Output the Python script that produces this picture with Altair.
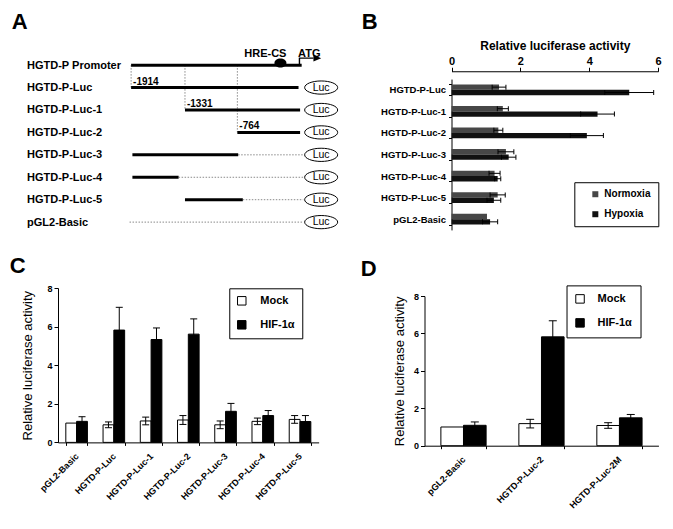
import altair as alt
import pandas as pd

# ---------------- canvas mapping (reference pixels -> chart pixels) ----------------
W, H = 656, 510
RX0, RX1 = 2.0, 675.0
RY0, RY1 = 4.0, 528.0
FONT = "Liberation Sans"


def X(rx):
    return round((rx - RX0) * W / (RX1 - RX0), 2)


def Y(ry):
    return round((ry - RY0) * H / (RY1 - RY0), 2)


# ---------------- data ----------------
# Panel A: construct map (positions in bp relative to ATG)
rows_A = ["HGTD-P Promoter", "HGTD-P-Luc", "HGTD-P-Luc-1", "HGTD-P-Luc-2",
          "HGTD-P-Luc-3", "HGTD-P-Luc-4", "HGTD-P-Luc-5", "pGL2-Basic"]
solid_rows = ["HGTD-P Promoter", "HGTD-P-Luc", "HGTD-P-Luc-1", "HGTD-P-Luc-2",
              "HGTD-P-Luc-3", "HGTD-P-Luc-4", "HGTD-P-Luc-5"]
solid_start = [-1914, -1914, -1331, -764, -1900, -1900, -1331]
solid_end = [-68, -102, -85, -85, -755, -1400, -705]
dotted_rows = ["HGTD-P-Luc-3", "HGTD-P-Luc-4", "HGTD-P-Luc-5", "pGL2-Basic"]
dotted_start = [-755, -1400, -705, -1931]
dotted_end = [-50, -50, -50, -50]
cut_rows = ["HGTD-P-Luc", "HGTD-P-Luc-1", "HGTD-P-Luc-2"]
cut_pos = [-1914, -1331, -764]
cut_labels = ["-1914", "-1331", "-764"]
luc_rows = rows_A[1:]
luc_pos = [143] * 7
hre_pos = [-298]
feature_labels = ["HRE-CS", "ATG"]
feature_label_pos = [-461, 14]
tss_pos = [-92]

# Panel B: normoxia / hypoxia
cats_B = ["HGTD-P-Luc", "HGTD-P-Luc-1", "HGTD-P-Luc-2", "HGTD-P-Luc-3",
          "HGTD-P-Luc-4", "HGTD-P-Luc-5", "pGL2-Basic"]
series_B = ["Normoxia", "Hypoxia"]
normoxia_B = [1.38, 1.49, 1.36, 1.58, 1.25, 1.34, 1.03]
normoxia_err_B = [0.20, 0.16, 0.13, 0.23, 0.16, 0.22, 0.0]
hypoxia_B = [5.16, 4.24, 3.93, 1.66, 1.34, 1.23, 1.12]
hypoxia_err_B = [0.71, 0.49, 0.48, 0.21, 0.09, 0.20, 0.22]

# Panel C: mock / HIF-1a
cats_C = ["pGL2-Basic", "HGTD-P-Luc", "HGTD-P-Luc-1", "HGTD-P-Luc-2",
          "HGTD-P-Luc-3", "HGTD-P-Luc-4", "HGTD-P-Luc-5"]
series_CD = ["Mock", "HIF-1\u03b1"]
mock_C = [1.0, 0.91, 1.11, 1.16, 0.91, 1.09, 1.19]
mock_err_C = [0.0, 0.15, 0.20, 0.23, 0.20, 0.17, 0.20]
hif_C = [1.09, 5.82, 5.33, 5.61, 1.61, 1.39, 1.08]
hif_err_C = [0.24, 1.18, 0.60, 0.79, 0.41, 0.26, 0.31]

# Panel D
cats_D = ["pGL2-Basic", "HGTD-P-Luc-2", "HGTD-P-Luc-2M"]
mock_D = [1.0, 1.18, 1.08]
mock_err_D = [0.0, 0.23, 0.15]
hif_D = [1.09, 5.82, 1.49]
hif_err_D = [0.18, 0.86, 0.18]

# Panel letters (reference pixel positions of their top-centre)
letters = ["A", "B", "C", "D"]
letter_x = [14, 373, 12, 372]
letter_y = [8, 8, 259, 262]

ELLIPSE = "M-1,0A1,0.4,0,1,1,1,0A1,0.4,0,1,1,-1,0Z"
BUMP = "M-1,-0.37A1,0.75,0,1,1,1,-0.37A1,0.75,0,1,1,-1,-0.37Z"
STEM = "M0,0L0,-0.4375L0.875,-0.4375"
HEAD = "M0.875,-0.65L1.36,-0.4375L0.875,-0.225Z"

# ---------------- Panel A ----------------
xA_scale = alt.Scale(domain=[-1914, -764], range=[X(128.3), X(237.3)], zero=False, nice=False)
yA_scale = alt.Scale(type="point", domain=rows_A, range=[Y(62.7), Y(224)], padding=0)
yA_axis = alt.Axis(orient="left", offset=-X(21), domain=False, ticks=False, tickSize=0, grid=False,
                   labelAlign="left", labelPadding=0, labelFont=FONT, labelFontSize=11,
                   labelFontWeight="bold", labelColor="black", title=None, labelLimit=300)


def xa(field):
    return alt.X(f"{field}:Q", scale=xA_scale, axis=None)


ya = alt.Y("row:N", scale=yA_scale, axis=yA_axis)

dfA_solid = pd.DataFrame({"row": solid_rows, "start": solid_start, "end": solid_end})
dfA_dot = pd.DataFrame({"row": dotted_rows, "start": dotted_start, "end": dotted_end})
dfA_vert = pd.DataFrame({"row": [rows_A[0]] * 3, "row2": cut_rows, "pos": cut_pos})
dfA_cut = pd.DataFrame({"row": cut_rows, "pos": cut_pos, "label": cut_labels})
dfA_luc = pd.DataFrame({"row": luc_rows, "pos": luc_pos})
dfA_hre = pd.DataFrame({"row": [rows_A[0]], "pos": hre_pos})
dfA_feat = pd.DataFrame({"row": [rows_A[0]] * 2, "pos": feature_label_pos, "label": feature_labels})
dfA_tss = pd.DataFrame({"row": [rows_A[0]], "pos": tss_pos})

a_dot = alt.Chart(dfA_dot).mark_rule(color="#8a8a8a", strokeWidth=1, strokeDash=[1.5, 1.5]).encode(
    x=xa("start"), x2="end", y=ya)
a_vert = alt.Chart(dfA_vert).mark_rule(color="#8a8a8a", strokeWidth=1, strokeDash=[1.5, 1.5]).encode(
    x=xa("pos"), y=ya, y2="row2")
a_solid = alt.Chart(dfA_solid).mark_rule(color="black", strokeWidth=3, strokeCap="butt").encode(
    x=xa("start"), x2="end", y=ya)
a_cut = alt.Chart(dfA_cut).mark_text(align="left", baseline="alphabetic", dx=2, dy=-3, font=FONT,
                                     fontSize=10, fontWeight="bold", color="black").encode(
    x=xa("pos"), y=ya, text="label:N")
a_luc = alt.Chart(dfA_luc).mark_point(shape=ELLIPSE, size=1089, filled=True, fill="white", stroke="black",
                                      strokeWidth=1, opacity=1).encode(x=xa("pos"), y=ya)
a_luctext = alt.Chart(dfA_luc).mark_text(text="Luc", align="center", baseline="middle", font=FONT,
                                         fontSize=10.5, color="black").encode(x=xa("pos"), y=ya)
a_hre = alt.Chart(dfA_hre).mark_point(shape=BUMP, size=144, filled=True, color="black", opacity=1).encode(
    x=xa("pos"), y=ya)
a_feat = alt.Chart(dfA_feat).mark_text(align="center", baseline="alphabetic", dy=-8.5, font=FONT,
                                       fontSize=11, fontWeight="bold", color="black").encode(
    x=xa("pos"), y=ya, text="label:N")
a_stem = alt.Chart(dfA_tss).mark_point(shape=STEM, size=1024, filled=False, stroke="black", strokeWidth=1.4,
                                       opacity=1).encode(x=xa("pos"), y=ya)
a_head = alt.Chart(dfA_tss).mark_point(shape=HEAD, size=1024, filled=True, color="black", opacity=1).encode(
    x=xa("pos"), y=ya)

panelA = alt.layer(a_dot, a_vert, a_solid, a_cut, a_luc, a_luctext, a_hre, a_feat, a_stem, a_head)

# ---------------- Panel B ----------------
dfB = pd.DataFrame({
    "cat": cats_B * 2,
    "series": ["Normoxia"] * len(cats_B) + ["Hypoxia"] * len(cats_B),
    "value": normoxia_B + hypoxia_B,
    "err": normoxia_err_B + hypoxia_err_B,
})
dfB["lo"] = dfB["value"] - dfB["err"]
dfB["hi"] = dfB["value"] + dfB["err"]
dfBe = dfB[dfB["err"] > 0].copy()
dfBcap = pd.concat([dfBe.assign(cap=dfBe["lo"]), dfBe.assign(cap=dfBe["hi"])])

xB_scale = alt.Scale(domain=[0, 6], range=[X(457), X(669)], nice=False, zero=True)
xB_axis = alt.Axis(orient="top", offset=-Y(69), values=[0, 2, 4, 6], tickSize=4, labelFlush=False,
                   labelPadding=1, labelFont=FONT, labelFontSize=11, labelFontWeight="bold",
                   title="Relative luciferase activity", titleFont=FONT, titleFontSize=12,
                   titleFontWeight="bold", titlePadding=3, grid=False)
yB_scale = alt.Scale(domain=cats_B, range=[Y(77), Y(232)], paddingInner=0.5, paddingOuter=0.25)
yB_axis = alt.Axis(orient="left", offset=-X(457), tickBand="extent", tickSize=3, labelPadding=3,
                   labelFont=FONT, labelFontSize=9.5, labelFontWeight="bold", title=None, grid=False)
yB = alt.Y("cat:N", scale=yB_scale, axis=yB_axis)
yoB = alt.YOffset("series:N", scale=alt.Scale(domain=series_B))
legB = alt.Legend(orient="none", legendX=X(583), legendY=Y(183), title=None, symbolType="square",
                  symbolSize=36, symbolStrokeWidth=0, labelFont=FONT, labelFontSize=10,
                  labelFontWeight="bold", labelColor="black", labelOffset=4, rowPadding=10, padding=7,
                  symbolOffset=9, strokeColor="black", fillColor="white")

b_bars = alt.Chart(dfB).mark_bar().encode(
    y=yB, yOffset=yoB,
    x=alt.X("value:Q", scale=xB_scale, axis=xB_axis),
    fill=alt.Fill("series:N", scale=alt.Scale(domain=series_B, range=["#474747", "#111111"]), legend=legB),
)
b_err = alt.Chart(dfBe).mark_rule(color="black", strokeWidth=1).encode(
    y=yB, yOffset=yoB, x=alt.X("lo:Q", scale=xB_scale, axis=xB_axis), x2="hi")
b_cap = alt.Chart(dfBcap).mark_tick(color="black", thickness=1, size=5, opacity=1).encode(
    y=yB, yOffset=yoB, x=alt.X("cap:Q", scale=xB_scale, axis=xB_axis))
panelB = alt.layer(b_bars, b_err, b_cap)


# ---------------- Panels C & D ----------------
def grouped_panel(cats, mock, mock_err, hif, hif_err, x0, x1, y0, y8, leg_x, leg_y, leg_pad,
                  leg_offset, nbsp, title_pad, cap_size):
    df = pd.DataFrame({
        "cat": cats * 2,
        "series": [series_CD[0]] * len(cats) + [series_CD[1]] * len(cats),
        "value": mock + hif,
        "err": mock_err + hif_err,
    })
    df["lo"] = df["value"] - df["err"]
    df["hi"] = df["value"] + df["err"]
    dfe = df[df["err"] > 0].copy()
    dfcap = pd.concat([dfe.assign(cap=dfe["lo"]), dfe.assign(cap=dfe["hi"])])

    x_scale = alt.Scale(domain=cats, range=[X(x0), X(x1)], paddingInner=0.42, paddingOuter=0.21)
    x_axis = alt.Axis(orient="bottom", offset=round(Y(y0) - H, 2), tickBand="extent", tickSize=3,
                      labelAngle=-45, labelAlign="right", labelBaseline="middle", labelPadding=9,
                      labelFont=FONT, labelFontSize=9, labelFontWeight="bold", title=None, grid=False)
    y_scale = alt.Scale(domain=[0, 8], range=[Y(y0), Y(y8)], nice=False, zero=True)
    y_axis = alt.Axis(orient="left", offset=-X(x0), values=[0, 2, 4, 6, 8], tickSize=4, labelPadding=2,
                      labelFont=FONT, labelFontSize=9, labelFontWeight="bold",
                      title="Relative luciferase activity", titleFont=FONT, titleFontSize=13,
                      titleFontWeight="normal", titlePadding=title_pad, grid=False)
    xe = alt.X("cat:N", scale=x_scale, axis=x_axis)
    xo = alt.XOffset("series:N", scale=alt.Scale(domain=series_CD, paddingInner=0, paddingOuter=0))
    pad = "\u00a0" * nbsp
    leg = alt.Legend(orient="none", legendX=X(leg_x), legendY=Y(leg_y), title=None, symbolType="square",
                     symbolSize=72, symbolStrokeColor="black", symbolStrokeWidth=1, labelFont=FONT,
                     labelFontSize=11, labelFontWeight="bold", labelColor="black", labelOffset=leg_offset,
                     rowPadding=11, padding=leg_pad, strokeColor="black", fillColor="white",
                     labelExpr=f"datum.label + '{pad}'")
    bars = alt.Chart(df).mark_bar(stroke="black", strokeWidth=1).encode(
        x=xe, xOffset=xo,
        y=alt.Y("value:Q", scale=y_scale, axis=y_axis),
        fill=alt.Fill("series:N", scale=alt.Scale(domain=series_CD, range=["white", "black"]), legend=leg),
    )
    err = alt.Chart(dfe).mark_rule(color="black", strokeWidth=1).encode(
        x=xe, xOffset=xo, y=alt.Y("lo:Q", scale=y_scale, axis=y_axis), y2="hi")
    caps = alt.Chart(dfcap).mark_tick(color="black", thickness=1, size=cap_size, opacity=1).encode(
        x=xe, xOffset=xo, y=alt.Y("cap:Q", scale=y_scale, axis=y_axis))
    return alt.layer(bars, err, caps)


panelC = grouped_panel(cats_C, mock_C, mock_err_C, hif_C, hif_err_C, 53.3, 320.7, 450.3, 291.7,
                       229, 292, 7, 13, 7, 12, 7)
panelD = grouped_panel(cats_D, mock_D, mock_err_D, hif_D, hif_err_D, 429.3, 669.3, 453.7, 300,
                       575, 289, 8, 12, 5, 7, 8)

# ---------------- panel letters ----------------
dfL = pd.DataFrame({"letter": letters, "lx": letter_x, "ly": letter_y})
letters_layer = alt.Chart(dfL).mark_text(font=FONT, fontSize=22, fontWeight="bold", color="black",
                                         align="center", baseline="top").encode(
    x=alt.X("lx:Q", scale=alt.Scale(domain=[RX0, RX1], range=[0, W], zero=False, nice=False), axis=None),
    y=alt.Y("ly:Q", scale=alt.Scale(domain=[RY0, RY1], range=[0, H], zero=False, nice=False), axis=None),
    text="letter:N",
)

chart = alt.layer(panelA, panelB, panelC, panelD, letters_layer).resolve_scale(
    x="independent", y="independent", fill="independent", xOffset="independent", yOffset="independent"
).resolve_axis(
    x="independent", y="independent"
).resolve_legend(
    fill="independent"
).properties(
    width=W, height=H, autosize=alt.AutoSizeParams(type="none"), padding=0
).configure_view(
    stroke=None
).configure_axis(
    domainColor="black", tickColor="black", labelColor="black", titleColor="black",
    domainWidth=1, tickWidth=1
)

chart.save("out.html", embed_options={"renderer": "svg", "actions": False})
